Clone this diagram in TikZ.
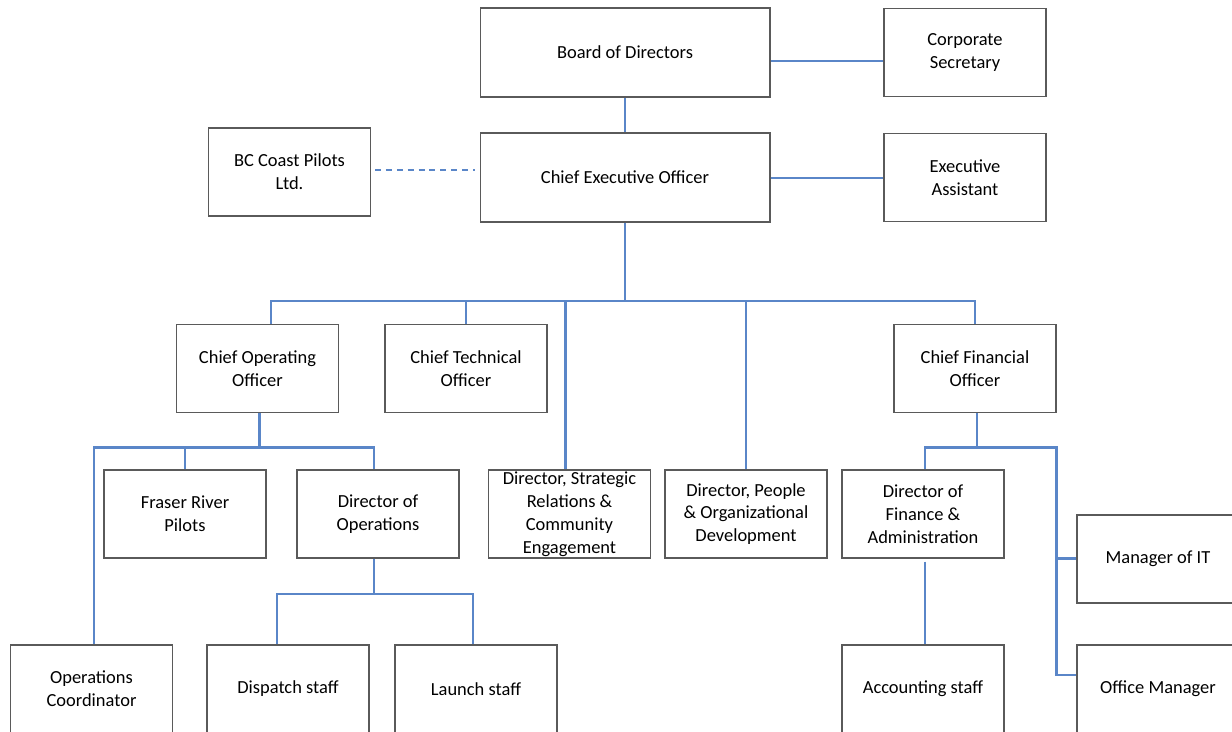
\documentclass[tikz,border=0pt]{standalone}
\usepackage{fontspec}
\setmainfont{Carlito}
\usetikzlibrary{calc}
\definecolor{cline}{HTML}{5A86C8}
\definecolor{cbox}{HTML}{5A5A5A}
\tikzset{
  every picture/.style={font=\fontsize{10.5}{13}\selectfont},
  post/.style={draw=cbox, line width=0.6pt, align=center, minimum width=3.24cm, minimum height=1.76cm, inner sep=1pt},
  widepost/.style={post, minimum width=5.8cm, minimum height=1.78cm},
  link/.style={draw=cline, line width=1.2pt},
}

\begin{document}
\begin{tikzpicture}[x=0.02cm, y=-0.02cm]
  \clip (0,0) rectangle (1232,732);
  % board and executive
  \node[widepost] (board) at (625,52.5) {Board of Directors};
  \node[post] (corpsec) at (965,52.5) {Corporate\\Secretary};
  \node[widepost] (ceo) at (625,177.5) {Chief Executive Officer};
  \node[post] (bcpilots) at (289.5,172) {BC Coast Pilots\\Ltd.};
  \node[post] (execasst) at (965,177.5) {Executive\\Assistant};
  % chiefs and directors
  \node[post] (coo) at (257.5,368.5) {Chief Operating\\Officer};
  \node[post] (cto) at (466,368.5) {Chief Technical\\Officer};
  \node[post] (cfo) at (975,368.5) {Chief Financial\\Officer};
  \node[post] (fraser) at (185,514) {Fraser River\\Pilots};
  \node[post] (dirops) at (378,514) {Director of\\Operations};
  \node[post] (strategic) at (569.5,514) {Director, Strategic\\Relations \&\\Community\\Engagement};
  \node[post] (people) at (746,514) {Director, People\\\& Organizational\\Development};
  \node[post] (finance) at (923,514) {Director of\\Finance \&\\Administration};
  \node[post] (manit) at (1158,559) {Manager of IT};
  % staff
  \node[post] (opscoord) at (91.5,689) {Operations\\Coordinator};
  \node[post] (dispatch) at (288,689) {Dispatch staff};
  \node[post] (launch) at (476,689) {Launch staff};
  \node[post] (accounting) at (923,689) {Accounting staff};
  \node[post] (officemgr) at (1158,689) {Office Manager};

  % connectors
  \draw[link] ($(board.east)+(0,8.5)$) -- ($(corpsec.west)+(0,8.5)$);
  \draw[link] (board.south) -- (ceo.north);
  \draw[link] ($(ceo.east)+(0,0.5)$) -- ($(execasst.west)+(0,0.5)$);
  \draw[link, dash pattern=on 3.4pt off 2.8pt] ($(bcpilots.east)+(4,-2)$) -- ($(bcpilots.east)+(104,-2)$);
  \draw[link] (ceo.south) -- ++(0,78.5) coordinate (bus);
  \draw[link] ($(coo.north)+(13.5,0)$) |- (bus) -| (cfo.north);
  \draw[link] (cto.north) -- (cto.north |- bus);
  \draw[link] ($(strategic.north)+(-4,0)$) -- ($(strategic.north |- bus)+(-4,0)$);
  \draw[link] (people.north) -- (people.north |- bus);
  % operations
  \draw[link] ($(coo.south)+(2,0)$) -- ++(0,34.5) coordinate (coobus);
  \draw[link] ($(opscoord.north)+(2.5,0)$) |- (coobus) -| ($(dirops.north)+(-4,0)$);
  \draw[link] (fraser.north) -- (fraser.north |- coobus);
  \draw[link] ($(dirops.south)+(-4,0)$) -- ++(0,35.5) coordinate (dopbus);
  \draw[link] ($(dispatch.north)+(-11,0)$) |- (dopbus) -| ($(launch.north)+(-3,0)$);
  % finance
  \draw[link] ($(cfo.south)+(2,0)$) -- ++(0,34.5) coordinate (cfobus);
  \draw[link] ($(finance.north)+(2,0)$) |- (cfobus) -| ($(officemgr.west)+(-20,-14)$) -- ($(officemgr.west)+(0,-14)$);
  \draw[link] ($(manit.west)+(0,-0.5)$) -- ++(-20,0);
  \draw[link] ($(finance.south)+(2,3)$) -- ($(accounting.north)+(2,0)$);
\end{tikzpicture}
\end{document}
